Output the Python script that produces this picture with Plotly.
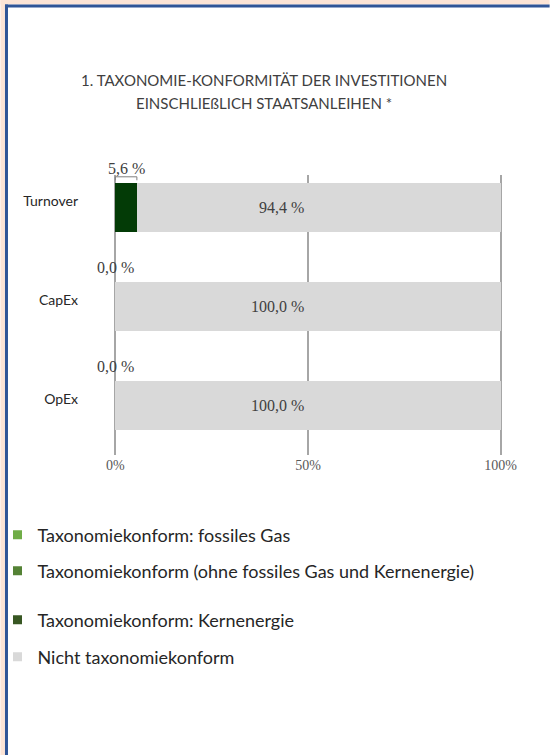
import plotly.graph_objects as go

# ---------------- data ----------------
categories = ["Turnover", "CapEx", "OpEx"]
fossil_gas = [0.0, 0.0, 0.0]
aligned_other = [0.0, 0.0, 0.0]
nuclear = [5.6, 0.0, 0.0]
not_aligned = [94.4, 100.0, 100.0]
x_ticks = [0, 50, 100]
x_tick_labels = ["0%", "50%", "100%"]
legend_names = [
    "Taxonomiekonform: fossiles Gas",
    "Taxonomiekonform (ohne fossiles Gas und Kernenergie)",
    "Taxonomiekonform: Kernenergie",
    "Nicht taxonomiekonform",
]
title_lines = ["1. TAXONOMIE-KONFORMITÄT DER INVESTITIONEN",
               "EINSCHLIEßLICH STAATSANLEIHEN *"]

# ---------------- styles / geometry ----------------
W, H = 550, 755
X0_PX, X100_PX = 115.0, 501.0          # pixel position of 0 % and 100 %
PAD = 0.6                               # axis range padding so edge gridlines show
UNIT = (X100_PX - X0_PX) / 100.0
ML = X0_PX - PAD * UNIT
MR = W - (X100_PX + PAD * UNIT)
MT, MB = 175, 300
PW, PH = W - ML - MR, H - MT - MB
SANS = "Lato, 'Liberation Sans', sans-serif"
SERIF = "'Liberation Serif', 'DejaVu Serif', serif"
bar_colors = ["#70AD47", "#548235", "#033B06", "#D9D9D9"]
legend_colors = ["#70AD47", "#548235", "#385723", "#D9D9D9"]
legend_y_px = [535, 571, 620, 657]
title_y_px = [80, 103]
title_x_px = 264
CAT_LABEL_LIFT = 0.06                   # category labels sit slightly above bar centres


def px_x(px):
    return (px - ML) / PW


def px_y(py):
    return (H - MB - py) / PH


def fmt(v):
    return f"{v:.1f}".replace(".", ",") + " %"


n = len(categories)
ypos = [n - 1 - i for i in range(n)]

fig = go.Figure()
series = [fossil_gas, aligned_other, nuclear, not_aligned]
for name, vals, col in zip(legend_names, series, bar_colors):
    fig.add_trace(go.Bar(
        y=ypos, x=vals, orientation="h", name=name,
        marker=dict(color=col, line=dict(width=0)),
        width=0.495, showlegend=False, hoverinfo="x+name",
    ))

# legend entries (uneven spacing -> one legend each)
for i, (name, col) in enumerate(zip(legend_names, legend_colors)):
    lid = "legend" if i == 0 else f"legend{i + 1}"
    fig.add_trace(go.Scatter(
        x=[None], y=[None], mode="markers", name=name,
        marker=dict(symbol="square", size=9, color=col),
        legend=lid, showlegend=True,
    ))
    fig.update_layout({lid: dict(
        x=px_x(-3), y=px_y(legend_y_px[i]), xanchor="left", yanchor="middle",
        bgcolor="rgba(0,0,0,0)", itemwidth=30,
        font=dict(family=SANS, size=18, color="#262626"),
    )})

annotations = []
# title lines
for ty, line in zip(title_y_px, title_lines):
    annotations.append(dict(
        x=px_x(title_x_px), y=px_y(ty), xref="paper", yref="paper",
        text=line, showarrow=False, xanchor="center", yanchor="middle",
        font=dict(family=SANS, size=15, color="#404040"),
    ))
# small segment labels (above bars)
for y, v in zip(ypos, nuclear):
    annotations.append(dict(
        x=v / 2, y=y, xref="x", yref="y", text=fmt(v), showarrow=False,
        yshift=39.5, font=dict(family=SERIF, size=16, color="#404040"),
    ))
# main labels
for y, a, b in zip(ypos, nuclear, not_aligned):
    annotations.append(dict(
        x=(a + b) / 2, y=y, xref="x", yref="y", text=fmt(b), showarrow=False,
        xanchor="right", xshift=-2,
        font=dict(family=SERIF, size=16, color="#404040"),
    ))

shapes = []
# callout bracket for the non-zero small label
for y, v in zip(ypos, nuclear):
    if v > 0:
        shapes.append(dict(
            type="path", xref="x", yref="y",
            path=f"M0,{y + 0.275} L0,{y + 0.31} L{v},{y + 0.31} L{v},{y + 0.275}",
            line=dict(color="#7F7F7F", width=1),
        ))
# page frame
shapes += [
    dict(type="rect", xref="paper", yref="paper", x0=px_x(0), x1=px_x(W),
         y0=px_y(0), y1=px_y(4.5), fillcolor="#FCE4D6", line=dict(width=0), layer="above"),
    dict(type="rect", xref="paper", yref="paper", x0=px_x(0), x1=px_x(4.5),
         y0=px_y(0), y1=px_y(H), fillcolor="#FCE4D6", line=dict(width=0), layer="above"),
    dict(type="rect", xref="paper", yref="paper", x0=px_x(4.5), x1=px_x(W),
         y0=px_y(4.5), y1=px_y(7.5), fillcolor="#2F5597", line=dict(width=0), layer="above"),
    dict(type="rect", xref="paper", yref="paper", x0=px_x(4.5), x1=px_x(7.5),
         y0=px_y(4.5), y1=px_y(H), fillcolor="#2F5597", line=dict(width=0), layer="above"),
]

fig.update_layout(
    width=W, height=H, autosize=False,
    margin=dict(l=ML, r=MR, t=MT, b=MB, pad=0, autoexpand=False),
    paper_bgcolor="white", plot_bgcolor="white",
    barmode="stack", bargap=0.5,
    xaxis=dict(
        range=[-PAD, 100 + PAD], tickvals=x_ticks, ticktext=x_tick_labels,
        showgrid=True, gridcolor="#A6A6A6", gridwidth=1.5,
        zeroline=False, showline=False, ticks="", automargin=False,
        tickfont=dict(family=SERIF, size=14, color="#595959"),
        fixedrange=True,
    ),
    yaxis=dict(
        range=[-0.5, (n - 1) + (207.5 - MT) / 99.0],
        tickvals=[p + CAT_LABEL_LIFT for p in ypos], ticktext=categories,
        showgrid=False, zeroline=False,
        showline=False, ticks="", ticklabelstandoff=34, automargin=False,
        tickfont=dict(family=SANS, size=14, color="#262626"),
        fixedrange=True,
    ),
    annotations=annotations, shapes=shapes,
)

fig.write_html(
    "out.html",
    config={"displayModeBar": False},
    post_script="document.body.style.margin='0';document.body.style.overflow='hidden';",
)
